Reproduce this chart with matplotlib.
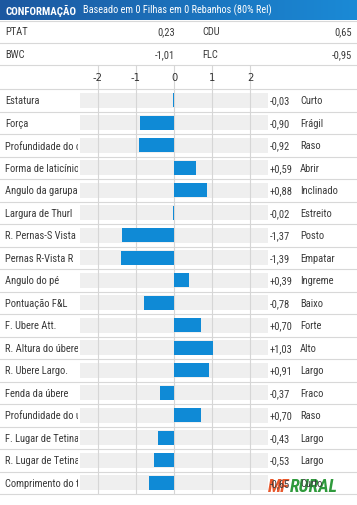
import matplotlib
matplotlib.use("Agg")
import matplotlib.pyplot as plt
import numpy as np

# data
traits = ["Estatura", "Força", "Profundidade do corpo", "Forma de laticínio",
          "Angulo da garupa", "Largura de Thurl", "R. Pernas-S Vista",
          "Pernas R-Vista R", "Angulo do pé", "Pontuação F&L", "F. Ubere Att.",
          "R. Altura do úbere", "R. Ubere Largo.", "Fenda da úbere",
          "Profundidade do úbere", "F. Lugar de Tetina", "R. Lugar de Tetina",
          "Comprimento do tetina"]
values = [-0.03, -0.90, -0.92, 0.59, 0.88, -0.02, -1.37, -1.39, 0.39, -0.78,
          0.70, 1.03, 0.91, -0.37, 0.70, -0.43, -0.53, -0.65]
descriptors = ["Curto", "Frágil", "Raso", "Abrir", "Inclinado", "Estreito",
               "Posto", "Empatar", "Ingreme", "Baixo", "Forte", "Alto", "Largo",
               "Fraco", "Raso", "Largo", "Largo", "Curto"]
ticks = [-2, -1, 0, 1, 2]
summary_left = [("PTAT", 0.23), ("BWC", -1.01)]
summary_right = [("CDU", 0.65), ("FLC", -0.95)]
title = "CONFORMAÇÃO"
subtitle = "Baseado em 0 Filhas em 0 Rebanhos (80% Rel)"

plt.rcParams['font.family'] = ['DejaVu Sans Condensed', 'Liberation Sans Narrow',
                               'Roboto Condensed', 'Liberation Sans', 'DejaVu Sans']
plt.rcParams['font.stretch'] = 'condensed'

W, H = 357, 506
TXT = "#3a3a3a"
SEP = "#d8d8d8"
BLUE = "#0f8ad6"
FS = 7.6

fig = plt.figure(figsize=(W / 100, H / 100), dpi=100)

# background axes in pixel coordinates
bg = fig.add_axes([0, 0, 1, 1])
bg.set_xlim(0, W)
bg.set_ylim(H, 0)
bg.axis("off")

# header gradient
grad = np.linspace(0, 1, 256).reshape(1, -1)
cmap = matplotlib.colors.LinearSegmentedColormap.from_list("hdr", ["#1d58a0", "#1a8ad6"])
bg.imshow(grad, cmap=cmap, extent=[0, W, 21, 0], aspect="auto")
t = bg.text(5, 10.5, title, color="white", fontsize=7.8, fontweight="bold", va="center")
bg.annotate(subtitle, xy=(1, 0.5), xycoords=t, xytext=(5, 0), textcoords="offset points",
            color="white", fontsize=7.4, va="center")

def fmt(v, sign=False):
    s = f"{v:+.2f}" if sign else f"{v:.2f}"
    return s.replace(".", ",")

for i, ((ln, lv), (rn, rv)) in enumerate(zip(summary_left, summary_right)):
    y = 32 + i * 23
    bg.text(5, y, ln, color=TXT, fontsize=FS, va="center")
    bg.text(175, y, fmt(lv), color=TXT, fontsize=FS, va="center", ha="right")
    bg.text(202, y, rn, color=TXT, fontsize=FS, va="center")
    bg.text(352, y, fmt(rv), color=TXT, fontsize=FS, va="center", ha="right")

# separators
top, row0, pitch = 66, 90, 22.5
seps = [21.5, 43.5, 66] + [row0 + k * pitch for k in range(len(traits) + 1)]
for y in seps:
    bg.axhline(y, color=SEP, lw=0.8)

# shared vertical geometry for row axes
bottom_px = row0 + pitch * len(traits)
b = (H - bottom_px) / H
h = (bottom_px - top) / H
ylim = (len(traits) - 0.5, -0.5 - (row0 - top) / pitch)
ypos = np.arange(len(traits))

# bar axes
x0, x1 = 80, 268
ax = fig.add_axes([x0 / W, b, (x1 - x0) / W, h])
ax.patch.set_alpha(0)
lim = (x1 - x0) / 2 / 38
ax.set_xlim(-lim, lim)
ax.set_ylim(*ylim)
ax.barh(ypos, [2 * lim] * len(traits), left=-lim, height=0.68, color="#efefef", zorder=0.2)
ax.barh(ypos, values, height=0.64, color=BLUE, zorder=2)
ax.set_xticks(ticks)
ax.grid(axis="x", color="#d6d6d6", lw=0.8, zorder=1)
ax.set_axisbelow(True)
ax.tick_params(length=0, labelbottom=False, labelleft=False)
for s in ax.spines.values():
    s.set_visible(False)
ymid = -0.5 - (row0 - top) / pitch / 2
for tk in ticks:
    ax.text(tk, ymid, str(tk), ha="center", va="center", fontsize=8,
            color="#333333", family="DejaVu Sans")

# label axes (clipped names)
axl = fig.add_axes([0, b, 78 / W, h])
axl.set_xlim(0, 78)
axl.set_ylim(*ylim)
axl.axis("off")
for y, name in zip(ypos, traits):
    axl.text(5, y, name, va="center", fontsize=FS, color=TXT, clip_on=True)

# value / descriptor axes
axr = fig.add_axes([x1 / W, b, (W - x1) / W, h])
axr.set_xlim(x1, W)
axr.set_ylim(*ylim)
axr.axis("off")
for y, v, d in zip(ypos, values, descriptors):
    axr.text(270, y, fmt(v, sign=v > 0), va="center", fontsize=FS, color=TXT)
    axr.text(300, y, d, va="center", fontsize=FS, color=TXT)

# watermark
m = bg.text(268, 487, "MF", color="#e8582c", fontsize=13, fontweight="bold",
            style="italic", va="center", zorder=10)
bg.annotate("RURAL", xy=(1, 0.5), xycoords=m, xytext=(0, 0), textcoords="offset points",
            color="#2f9a3c", fontsize=13, fontweight="bold", style="italic",
            va="center", zorder=10)

fig.savefig("out.png", dpi=100)
